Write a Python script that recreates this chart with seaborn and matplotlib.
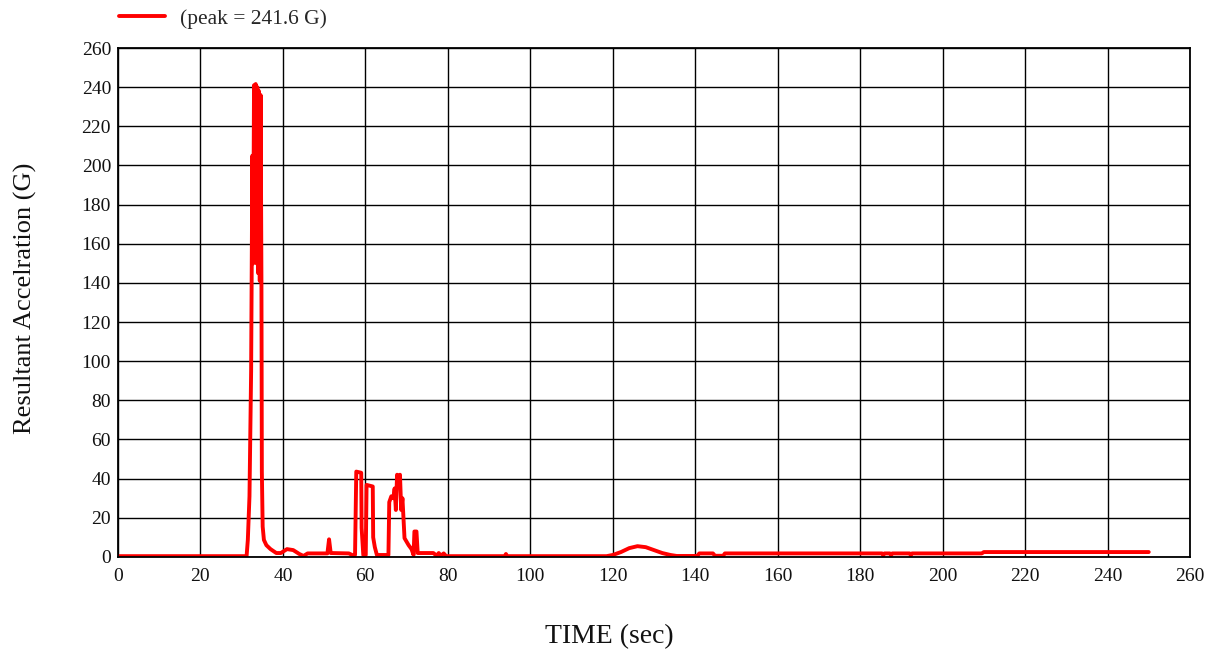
import matplotlib
matplotlib.use("Agg")
import matplotlib.pyplot as plt
import seaborn as sns
import pandas as pd

# Resultant acceleration record (time in seconds, acceleration in G)
time_sec = [
    0, 31.2, 31.5, 31.9, 32.3, 32.6, 32.8, 33.0, 33.2, 33.4, 33.6, 33.8, 34.0, 34.2,
    34.4, 34.6, 34.8, 34.9, 35.1, 35.4, 36.0, 37.0, 38.4, 39.5, 41.0, 42.5, 44.0,
    45.0, 46.0, 50.8, 51.2, 51.6, 56.0, 57.0, 57.5, 57.8, 59.0, 59.1, 59.5, 60.1,
    60.3, 61.8, 61.9, 62.3, 62.8, 65.6, 65.8, 66.3, 66.8, 67.1, 67.4, 67.7, 68.0,
    68.4, 68.7, 69.0, 69.5, 70.5, 71.2, 71.7, 71.9, 72.4, 72.7, 76.5, 77.3, 77.8,
    78.3, 79.0, 79.6, 93.8, 94.1, 94.4, 118.5, 120, 122, 124, 126, 128, 130, 132,
    134, 135.5, 140.5, 141, 144.3, 144.8, 146.8, 147.2, 185.3, 185.6, 185.9, 187.2,
    187.5, 187.8, 192.0, 192.3, 192.6, 209.5, 210.0, 250,
]
accel_g = [
    0.4, 0.4, 8.7, 31, 95, 205, 150, 241, 160, 241.6, 150, 240, 145, 238,
    141, 236, 141, 43.6, 15.5, 8.7, 6, 4, 2, 2, 4, 3.5, 1.5,
    0.5, 1.8, 1.8, 9, 2, 1.8, 0.8, 1, 43.6, 43, 14.8, 1, 1,
    36.8, 36, 10, 5, 1, 1, 28, 31, 30, 35, 24, 42, 36,
    42, 24, 30, 9.6, 6, 4, 1, 13, 13, 2, 2, 0.6, 2,
    0.6, 1.8, 0.4, 0.4, 1.5, 0.4, 0.4, 1, 2.5, 4.5, 5.5, 5, 3.5, 2,
    1, 0.5, 0.5, 1.8, 1.8, 0.6, 0.6, 1.8, 1.8, 0.8, 1.8, 1.8,
    0.8, 1.8, 1.8, 0.8, 1.8, 1.8, 2.5, 2.5,
]
peak_g = max(accel_g)
series_label = f"(peak = {peak_g:.1f} G)"

x_ticks = list(range(0, 261, 20))
y_ticks = list(range(0, 261, 20))

df = pd.DataFrame({"time": time_sec, "accel": accel_g})

sns.set_theme(style="white")
plt.rcParams["font.family"] = ["Liberation Serif", "DejaVu Serif"]

fig = plt.figure(figsize=(12.21, 6.56), dpi=100)
ax = fig.add_axes([0.0966, 0.151, 0.878, 0.7758])

sns.lineplot(data=df, x="time", y="accel", ax=ax, color="#ff0000",
             linewidth=2.8, label=series_label, legend=False, sort=False)

ax.set_xlim(0, 260)
ax.set_ylim(0, 260)
ax.set_xticks(x_ticks)
ax.set_yticks(y_ticks)
ax.set_xticklabels([str(v) for v in x_ticks])
ax.set_yticklabels([str(v) for v in y_ticks])
ax.tick_params(axis="both", labelsize=14, length=0, colors="#111111")
ax.tick_params(axis="x", pad=8)
ax.tick_params(axis="y", pad=5)
ax.grid(True, color="black", linewidth=1.0)
ax.set_axisbelow(True)
for sp in ax.spines.values():
    sp.set_color("black")
    sp.set_linewidth(1.3)
ax.set_xlabel("")
ax.set_ylabel("")

fig.text(0.4988, 0.030, "TIME (sec)", fontsize=20, ha="center", va="center",
         color="#111111")
fig.text(0.021, 0.546, "Resultant Accelration (G)", fontsize=19, rotation=90,
         ha="center", va="center", color="#111111")

handles, labels = ax.get_legend_handles_labels()
fig.legend(handles, labels, loc="upper left", bbox_to_anchor=(0.082, 1.016),
           frameon=False, fontsize=15.5, handlelength=2.1, handletextpad=0.7)

fig.savefig("out.png", dpi=100, facecolor="white")
